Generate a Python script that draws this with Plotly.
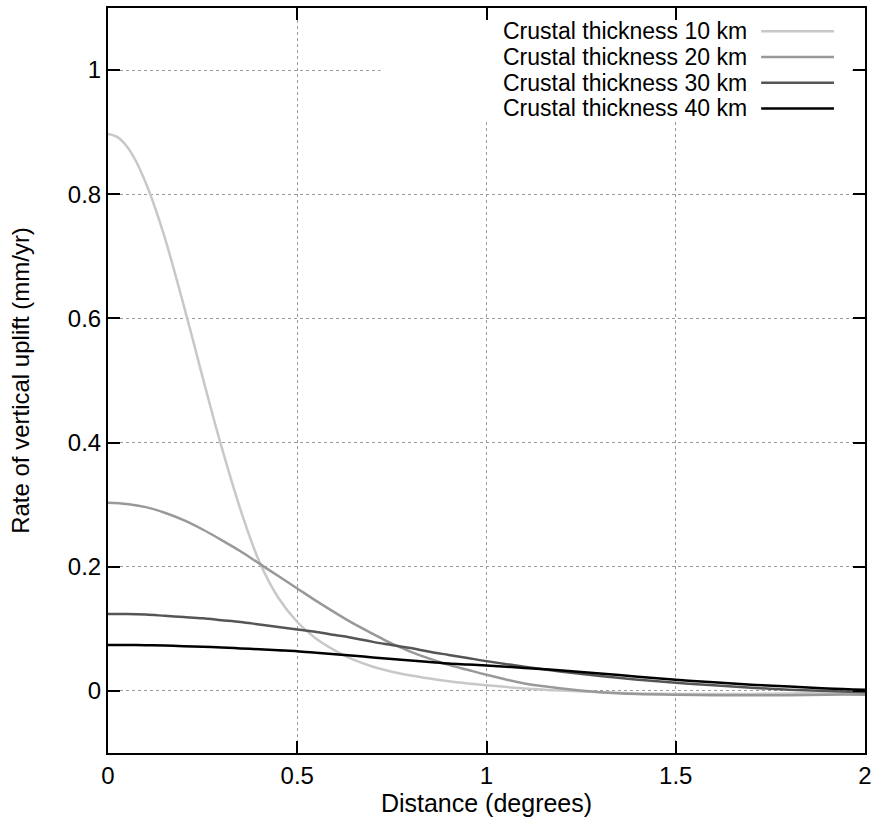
import plotly.graph_objects as go

# Distance from load centre (degrees)
distance = [0.0, 0.05, 0.1, 0.15, 0.2, 0.25, 0.3, 0.35, 0.4, 0.45, 0.5, 0.55, 0.6, 0.65,
            0.7, 0.75, 0.8, 0.85, 0.9, 0.95, 1.0, 1.1, 1.2, 1.3, 1.4, 1.5, 1.6, 1.7,
            1.8, 1.9, 2.0]
# The 10 km curve is sampled more finely near the peak, where it bends sharply
distance_10km = [0.0, 0.025, 0.05, 0.075, 0.1, 0.125, 0.15, 0.175, 0.2, 0.225, 0.25,
                 0.275, 0.3, 0.35, 0.4, 0.45, 0.5, 0.55, 0.6, 0.65, 0.7, 0.75, 0.8,
                 0.85, 0.9, 0.95, 1.0, 1.1, 1.2, 1.3, 1.4, 1.5, 1.6, 1.7, 1.8, 1.9, 2.0]

# Rate of vertical uplift (mm/yr) for each crustal thickness
uplift_10km = [0.897, 0.892, 0.877, 0.852, 0.818, 0.777, 0.730, 0.677, 0.621, 0.564,
               0.505, 0.448, 0.393, 0.292, 0.208, 0.150, 0.111, 0.084, 0.065, 0.050,
               0.039, 0.031, 0.025, 0.020, 0.0155, 0.012, 0.009, 0.004, 0.0005, -0.002,
               -0.004, -0.005, -0.005, -0.005, -0.004, -0.004, -0.004]
uplift_20km = [0.303, 0.301, 0.296, 0.287, 0.275, 0.260, 0.243, 0.225, 0.205, 0.185,
               0.165, 0.145, 0.126, 0.108, 0.092, 0.076, 0.063, 0.052, 0.042, 0.034,
               0.026, 0.012, 0.004, -0.002, -0.005, -0.006, -0.007, -0.007, -0.007,
               -0.006, -0.006]
uplift_30km = [0.124, 0.124, 0.123, 0.121, 0.119, 0.117, 0.114, 0.111, 0.107, 0.103,
               0.099, 0.095, 0.090, 0.085, 0.079, 0.074, 0.069, 0.063, 0.058, 0.053,
               0.048, 0.039, 0.031, 0.024, 0.018, 0.013, 0.009, 0.005, 0.002, 0.000,
               -0.002]
uplift_40km = [0.074, 0.074, 0.0735, 0.073, 0.072, 0.071, 0.070, 0.0685, 0.067, 0.0655,
               0.064, 0.0615, 0.059, 0.0565, 0.054, 0.0515, 0.049, 0.0465, 0.044, 0.0425,
               0.041, 0.037, 0.033, 0.028, 0.023, 0.018, 0.014, 0.010, 0.007, 0.004,
               0.002]

series_names = ["Crustal thickness 10 km", "Crustal thickness 20 km",
                "Crustal thickness 30 km", "Crustal thickness 40 km"]
series_x = [distance_10km, distance, distance, distance]
series_values = [uplift_10km, uplift_20km, uplift_30km, uplift_40km]
series_colors = ["#c8c8c8", "#999999", "#555555", "#000000"]

x_ticks = [0, 0.5, 1, 1.5, 2]
x_tick_labels = ["0", "0.5", "1", "1.5", "2"]
y_ticks = [0, 0.2, 0.4, 0.6, 0.8, 1.0]
y_tick_labels = ["0", "0.2", "0.4", "0.6", "0.8", "1"]

FONT = "Liberation Sans, Arial, Helvetica, sans-serif"

fig = go.Figure()
for name, xs, vals, col in zip(series_names, series_x, series_values, series_colors):
    fig.add_trace(go.Scatter(
        x=xs, y=vals, mode="lines", name=name,
        line=dict(color=col, width=2.5, shape="spline", smoothing=1.0),
        showlegend=False,
    ))

# Opaque key box (hides the grid behind the key, as gnuplot does)
fig.add_shape(type="rect", xref="x", yref="y", x0=0.72, x1=1.96, y0=0.92, y1=1.1,
              fillcolor="white", line=dict(width=0), layer="between")

# Key: text on the left, line sample on the right
key_rows_y = [0.9688, 0.9342, 0.8997, 0.8652]
for name, col, ky in zip(series_names, series_colors, key_rows_y):
    fig.add_annotation(xref="paper", yref="paper", x=0.847, y=ky, text=name,
                       showarrow=False, xanchor="right", yanchor="middle",
                       font=dict(family=FONT, size=23, color="black"))
    fig.add_shape(type="line", xref="paper", yref="paper", x0=0.8628, x1=0.959,
                  y0=ky, y1=ky, line=dict(color=col, width=2.5))

axis_common = dict(
    showline=True, linecolor="black", linewidth=2, mirror="allticks",
    ticks="inside", ticklen=12, tickwidth=2, tickcolor="black",
    showgrid=True, gridcolor="#9a9a9a", griddash="dot", gridwidth=1,
    zeroline=False, tickfont=dict(family=FONT, size=24, color="black"),
)

fig.update_xaxes(range=[0, 2], tickvals=x_ticks, ticktext=x_tick_labels,
                 title=dict(text="Distance (degrees)", standoff=4,
                            font=dict(family=FONT, size=25, color="black")),
                 **axis_common)
fig.update_yaxes(range=[-0.1, 1.1], tickvals=y_ticks, ticktext=y_tick_labels,
                 title=dict(text="Rate of vertical uplift (mm/yr)", standoff=31,
                            font=dict(family=FONT, size=24, color="black")),
                 **axis_common)

fig.update_layout(
    width=878, height=825,
    margin=dict(l=108, r=12, t=6, b=72),
    plot_bgcolor="white", paper_bgcolor="white",
    font=dict(family=FONT, size=24, color="black"),
)

fig.write_html("out.html")
